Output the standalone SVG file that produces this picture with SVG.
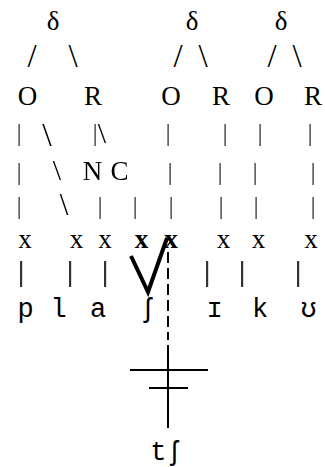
<svg xmlns="http://www.w3.org/2000/svg" width="325" height="467" viewBox="0 0 325 467">
<style>
.s{font-family:"Liberation Serif","Times New Roman",serif;font-size:27px;fill:#000;text-anchor:middle}
.sl{font-family:"Liberation Serif","Times New Roman",serif;font-size:33px;fill:#000;text-anchor:middle}
.bs{font-family:"Liberation Serif","Times New Roman",serif;font-size:34px;fill:#000;text-anchor:middle}
.p{font-family:"Liberation Serif","Times New Roman",serif;font-size:26px;fill:#333;text-anchor:middle}
.b{font-weight:bold}
.m{font-family:"Liberation Mono","Courier New","DejaVu Sans Mono",monospace;font-size:27px;fill:#000;text-anchor:middle}
.mp{font-family:"Liberation Mono","Courier New","DejaVu Sans Mono",monospace;font-size:27px;fill:#333;text-anchor:middle}
.ln{stroke:#000;stroke-width:2;fill:none}
</style>
<defs>
<filter id="gs" x="0" y="0" width="1" height="1"><feOffset dx="0" dy="0"/></filter>
</defs>
<rect width="325" height="467" fill="#fff"/>
<g id="row-delta">
<text class="s" x="53" y="30">δ</text>
<text class="s" x="192" y="30">δ</text>
<text class="s" x="281" y="30">δ</text>
</g>
<g id="row-slashes">
<text class="sl" x="32" y="67">/</text>
<text class="sl" x="73" y="67">\</text>
<text class="sl" x="178" y="67">/</text>
<text class="sl" x="203" y="67">\</text>
<text class="sl" x="272" y="67">/</text>
<text class="sl" x="297" y="67">\</text>
</g>
<g id="row-OR">
<text class="s" x="27.5" y="105">O</text>
<text class="s" x="93" y="105">R</text>
<text class="s" x="171" y="105">O</text>
<text class="s" x="221" y="105">R</text>
<text class="s" x="264" y="105">O</text>
<text class="s" x="313" y="105">R</text>
</g>
<g id="row4" filter="url(#gs)">
<text class="p" x="19" y="141">|</text>
<text class="bs" x="47" y="146">\</text>
<text class="p" x="95" y="141">|</text>
<text class="bs" x="102" y="143" style="font-size:30px">\</text>
<text class="p" x="168" y="141">|</text>
<text class="p" x="225" y="141">|</text>
<text class="p" x="260" y="141">|</text>
<text class="p" x="310" y="141">|</text>
</g>
<g id="row5" filter="url(#gs)">
<text class="p" x="19" y="180">|</text>
<text class="bs" x="57" y="180" style="font-size:30px">\</text>
<text class="s" x="92.5" y="180">N</text>
<text class="s" x="119.5" y="180">C</text>
<text class="p" x="170" y="180">|</text>
<text class="p" x="220" y="180">|</text>
<text class="p" x="255" y="180">|</text>
<text class="p" x="313" y="180">|</text>
</g>
<g id="row6" filter="url(#gs)">
<text class="p" x="19" y="214">|</text>
<text class="bs" x="64" y="215" style="font-size:31px">\</text>
<text class="p" x="100" y="214">|</text>
<text class="p" x="135" y="214">|</text>
<text class="p" x="171" y="214">|</text>
<text class="p" x="221" y="214">|</text>
<text class="p" x="256" y="214">|</text>
<text class="p" x="313" y="214">|</text>
</g>
<g id="row-x">
<text class="s" x="25" y="248">x</text>
<text class="s" x="76.5" y="248">x</text>
<text class="s" x="105" y="248">x</text>
<text class="s b" x="141.5" y="248">x</text>
<text class="s b" x="171" y="248">x</text>
<text class="s" x="223.5" y="248">x</text>
<text class="s" x="258.5" y="248">x</text>
<text class="s" x="311" y="248">x</text>
</g>
<g id="row8" filter="url(#gs)">
<text class="mp" x="21" y="281">|</text>
<text class="mp" x="70" y="281">|</text>
<text class="mp" x="105" y="281">|</text>
<text class="mp" x="207" y="281">|</text>
<text class="mp" x="242" y="281">|</text>
<text class="mp" x="298" y="281">|</text>
</g>
<g id="row-segments">
<text class="m" x="25.5" y="317">p</text>
<text class="m" x="58.5" y="317">l</text>
<text class="m" x="98" y="317">a</text>
<text class="m" x="148" y="317">ʃ</text>
<text class="m" x="214.5" y="317">ɪ</text>
<text class="m" x="260" y="317">k</text>
<text class="m" x="308.5" y="317">ʊ</text>
</g>
<g id="connectors">
<polyline class="ln" points="131,256 148,292 167,238" style="stroke-width:4"/>
<line class="ln" x1="168" y1="252" x2="168" y2="340" stroke-dasharray="11 5"/>
<line class="ln" x1="168" y1="345" x2="168" y2="428"/>
<line class="ln" x1="130" y1="370" x2="208" y2="370"/>
<line class="ln" x1="149" y1="388" x2="188" y2="388"/>
</g>
<g id="result">
<text class="m" x="166.5" y="460">tʃ</text>
</g>
</svg>
